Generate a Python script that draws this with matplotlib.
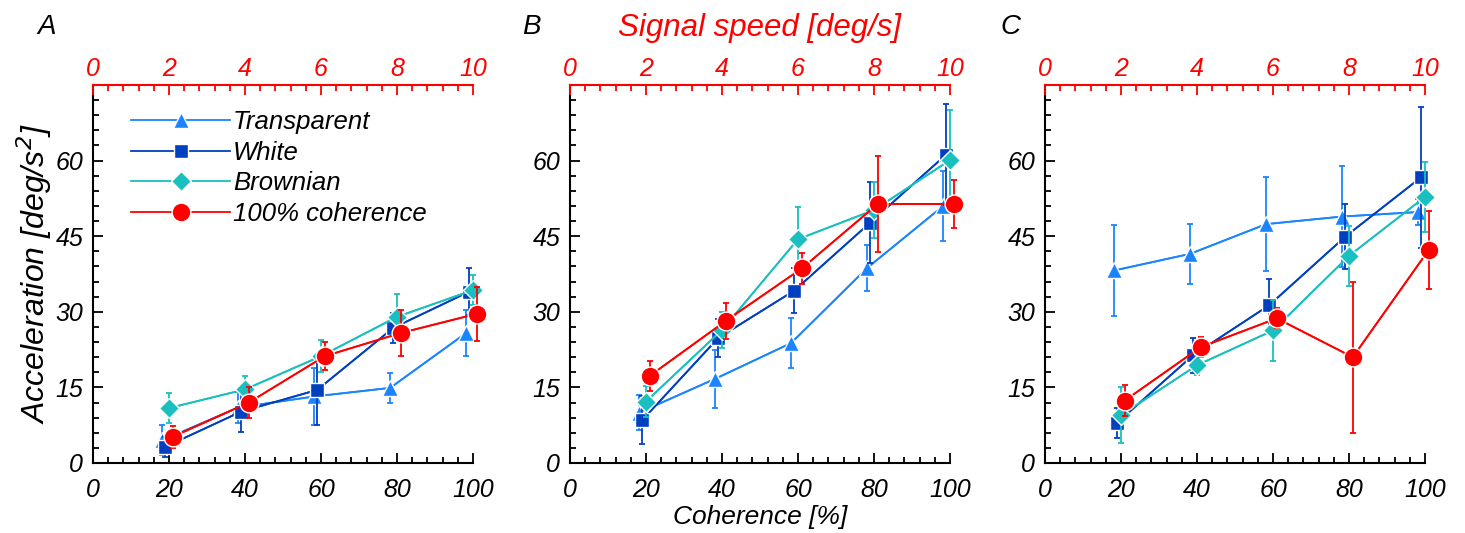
import matplotlib
matplotlib.use('Agg')
import matplotlib.pyplot as plt
from matplotlib.ticker import MultipleLocator
import numpy as np

plt.rcParams['font.family'] = ['Liberation Sans', 'DejaVu Sans']
plt.rcParams['font.style'] = 'italic'

coherence = [20, 40, 60, 80, 100]
series_names = ['Transparent', 'White', 'Brownian', '100% coherence']
panel_letters = ['A', 'B', 'C']

# panel A
a_transparent = [4.5, 11.0, 13.2, 14.9, 25.8]
a_transparent_err = [3.0, 3.0, 5.7, 3.0, 4.5]
a_white = [3.2, 10.2, 14.5, 26.8, 34.0]
a_white_err = [2.0, 4.0, 7.0, 3.0, 4.7]
a_brownian = [10.9, 14.6, 21.2, 29.0, 34.3]
a_brownian_err = [3.0, 2.7, 3.2, 4.5, 3.0]
a_coherent = [5.2, 12.0, 21.2, 25.8, 29.6]
a_coherent_err = [2.2, 3.0, 2.8, 4.5, 5.4]

# panel B
b_transparent = [10.0, 16.7, 23.8, 38.7, 51.0]
b_transparent_err = [3.5, 5.8, 5.0, 4.5, 7.0]
b_white = [8.5, 24.8, 34.2, 47.7, 61.2]
b_white_err = [4.7, 3.7, 4.5, 8.0, 10.0]
b_brownian = [12.2, 26.4, 44.4, 50.2, 60.1]
b_brownian_err = [3.0, 3.5, 6.3, 5.5, 10.0]
b_coherent = [17.3, 28.2, 38.6, 51.4, 51.4]
b_coherent_err = [3.0, 3.6, 3.0, 9.6, 4.7]

# panel C
c_transparent = [38.2, 41.5, 47.4, 48.9, 49.8]
c_transparent_err = [9.0, 6.0, 9.4, 10.0, 2.5]
c_white = [8.0, 21.4, 31.3, 44.9, 56.7]
c_white_err = [3.0, 3.5, 5.3, 6.5, 14.0]
c_brownian = [9.5, 19.4, 26.3, 41.1, 52.8]
c_brownian_err = [5.5, 2.0, 6.0, 6.0, 7.0]
c_coherent = [12.4, 23.0, 28.7, 21.0, 42.3]
c_coherent_err = [3.0, 2.0, 2.0, 15.0, 7.7]

panels = [
    [(a_transparent, a_transparent_err), (a_white, a_white_err),
     (a_brownian, a_brownian_err), (a_coherent, a_coherent_err)],
    [(b_transparent, b_transparent_err), (b_white, b_white_err),
     (b_brownian, b_brownian_err), (b_coherent, b_coherent_err)],
    [(c_transparent, c_transparent_err), (c_white, c_white_err),
     (c_brownian, c_brownian_err), (c_coherent, c_coherent_err)],
]

colors = ['#1a85ff', '#0040c0', '#1abfbf', '#ff0000']
markers = ['^', 's', 'D', 'o']
msizes = [12, 9.5, 10, 13.5]
offsets = [-1.8, -1.0, 0.0, 1.0]

fig = plt.figure(figsize=(14.65, 5.33), dpi=100)
lefts = [93 / 1465, 570 / 1465, 1045 / 1465]
letter_x = [37, 522, 1000]
bottom = 70 / 533
height = 378 / 533
width = 380 / 1465

for k, (left, data) in enumerate(zip(lefts, panels)):
    ax = fig.add_axes([left, bottom, width, height])
    for i, (vals, errs) in enumerate(data):
        x = np.array(coherence) + offsets[i]
        eb = ax.errorbar(x, vals, yerr=errs, color=colors[i], lw=1.3, elinewidth=1.3,
                         capsize=2.5, capthick=1.3, zorder=2 + i)
        for art in eb.get_children():
            art.set_clip_on(False)
        ax.plot(x, vals, marker=markers[i], color=colors[i], lw=1.3, ms=msizes[i],
                mec='white', mew=1.0, label=series_names[i], zorder=3 + i,
                clip_on=False)
    ax.set_xlim(0, 100)
    ax.set_ylim(0, 75)
    ax.set_yticks([0, 15, 30, 45, 60])
    ax.set_xticks([0, 20, 40, 60, 80, 100])
    ax.xaxis.set_minor_locator(MultipleLocator(4))
    ax.yaxis.set_minor_locator(MultipleLocator(3))
    ax.tick_params(which='both', direction='in', width=1.3, labelsize=18)
    ax.tick_params(which='major', length=7)
    ax.tick_params(which='minor', length=4)
    ax.tick_params(axis='y', pad=7)
    ax.tick_params(axis='x', pad=11)
    ax.spines['right'].set_visible(False)
    ax.spines['top'].set_visible(False)
    for s in ['left', 'bottom']:
        ax.spines[s].set_linewidth(1.5)

    top = ax.twiny()
    top.set_xlim(0, 10)
    top.set_xticks([0, 2, 4, 6, 8, 10])
    top.xaxis.set_minor_locator(MultipleLocator(0.4))
    top.tick_params(which='both', direction='in', width=1.3, colors='red',
                    labelsize=18, pad=3)
    top.tick_params(which='major', length=7)
    top.tick_params(which='minor', length=4)
    for s in ['left', 'right', 'bottom']:
        top.spines[s].set_visible(False)
    top.spines['top'].set_color('red')
    top.spines['top'].set_linewidth(1.5)

    fig.text(letter_x[k] / 1465, 1 - 27 / 533, panel_letters[k], fontsize=20,
             style='italic', ha='left', va='center')

    if k == 0:
        ax.set_ylabel('Acceleration [deg/s$^2$]', fontsize=23, labelpad=1)
        ax.legend(loc='upper left', bbox_to_anchor=(0.06, 0.975), frameon=False,
                  fontsize=18.5, handlelength=3.85, handletextpad=0.1,
                  labelspacing=0.26, borderaxespad=0.2)
    if k == 1:
        ax.set_xlabel('Coherence [%]', fontsize=19, labelpad=2)
        top.set_xlabel('Signal speed [deg/s]', fontsize=22.5, color='red', labelpad=15)

fig.savefig('out.png', dpi=100)
